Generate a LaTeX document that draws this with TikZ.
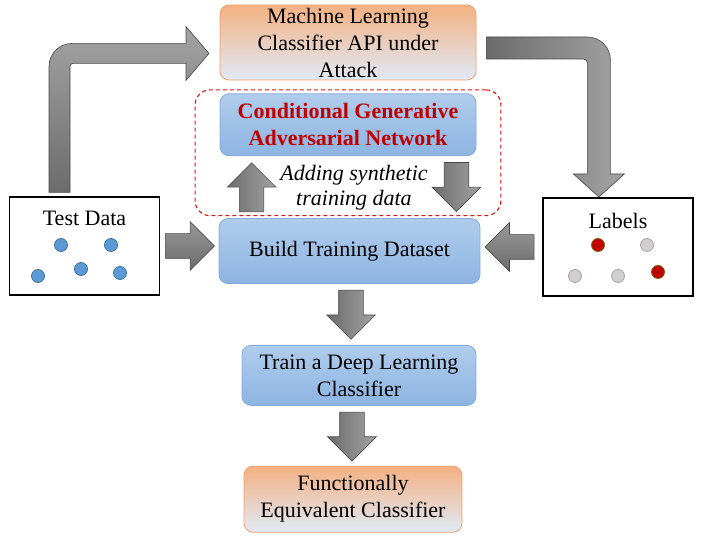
\documentclass[tikz,border=0pt]{standalone}
\usepackage{fontspec}
\setmainfont{Liberation Serif}
\definecolor{flowOrange}{RGB}{244,177,131}
\definecolor{flowOrangeLine}{RGB}{241,160,105}
\definecolor{flowPale}{RGB}{224,234,246}
\definecolor{flowBlueTop}{RGB}{176,204,236}
\definecolor{flowBlueBot}{RGB}{141,180,226}
\definecolor{flowBlueLine}{RGB}{132,170,220}
\definecolor{flowRed}{RGB}{192,0,0}
\definecolor{flowDash}{RGB}{224,20,20}
\definecolor{flowGrayDark}{RGB}{108,108,108}
\definecolor{flowGrayLight}{RGB}{163,163,163}
\definecolor{flowGrayLine}{RGB}{72,72,72}
\definecolor{dotBlue}{RGB}{91,155,213}
\definecolor{dotBlueLine}{RGB}{65,113,156}
\definecolor{dotRed}{RGB}{192,0,0}
\definecolor{dotRedLine}{RGB}{127,96,0}
\definecolor{dotGray}{RGB}{208,206,206}
\definecolor{dotGrayLine}{RGB}{165,165,165}
\usetikzlibrary{shapes.arrows,positioning,fit,calc}

\begin{document}
\begin{tikzpicture}[x=1pt, y=1pt,
  box/.style={rounded corners=9pt, inner sep=0pt, align=center, line width=0.8pt,
              font=\fontsize{22}{27}\selectfont},
  bluebox/.style={box, draw=flowBlueLine, top color=flowBlueTop, bottom color=flowBlueBot},
  orangebox/.style={box, draw=flowOrangeLine, top color=flowOrange,
                    middle color=flowOrange!80!flowPale, bottom color=flowPale},
  databox/.style={draw, line width=1.1pt, minimum width=150pt, minimum height=98pt},
  blockarrow/.style={single arrow, draw=flowGrayLine, line width=0.6pt, inner sep=12pt,
                     minimum height=49pt, minimum width=48pt, single arrow head extend=12pt,
                     anchor=tail},
  downarrow/.style={blockarrow, shape border rotate=270, left color=flowGrayDark, right color=flowGrayLight},
  uparrow/.style={blockarrow, shape border rotate=90, left color=flowGrayDark, right color=flowGrayLight},
  rightarrow/.style={blockarrow, top color=flowGrayLight!80!flowGrayDark, bottom color=flowGrayDark},
  leftarrow/.style={rightarrow, shape border rotate=180},
  bent/.style={draw=flowGrayLine, line width=0.6pt},
  gangroup/.style={draw=flowDash, line width=1.1pt, dash pattern=on 4pt off 3pt,
                   rounded corners=15pt, inner xsep=24.5pt, inner ysep=3.5pt},
  datadot/.style={circle, minimum size=13pt, inner sep=0pt, line width=0.8pt},
  bluedot/.style={datadot, fill=dotBlue, draw=dotBlueLine},
  reddot/.style={datadot, fill=dotRed, draw=dotRedLine},
  graydot/.style={datadot, fill=dotGray, draw=dotGrayLine}
]
  \useasboundingbox (0,0) rectangle (705,543);

  % main flow
  \node[orangebox, minimum width=256pt, minimum height=75pt] (api) at (348,500.5)
       {Machine Learning\\Classifier API under\\Attack};
  \node[bluebox, minimum width=256pt, minimum height=62pt, below=13pt of api,
        font=\fontsize{22}{27}\selectfont\bfseries, text=flowRed] (cgan)
       {Conditional Generative\\Adversarial Network};
  \node[bluebox, minimum width=261pt, minimum height=65pt, below=62pt of cgan, xshift=1.5pt] (build)
       {Build Training Dataset};
  \node[bluebox, minimum width=234pt, minimum height=60pt, below=61pt of build, xshift=9.5pt] (train)
       {Train a Deep Learning\\Classifier};
  \node[orangebox, minimum width=218pt, minimum height=66pt, below=60pt of train, xshift=-6pt] (final)
       {Functionally\\Equivalent Classifier};

  % inputs
  \node[databox] (test) at (84.5,297) {};
  \node[font=\fontsize{22}{27}\selectfont] (testlbl) at ([yshift=-22pt]test.north) {Test Data};
  \node[bluedot] (b1) at (61,298) {};
  \node[bluedot] (b2) at (111,298) {};
  \node[bluedot] (b3) at (38,267) {};
  \node[bluedot] (b4) at (81,274) {};
  \node[bluedot] (b5) at (120,270) {};

  \node[databox] (labels) at (618,296) {};
  \node[font=\fontsize{22}{27}\selectfont] (labelslbl) at ([yshift=-24pt]labels.north) {Labels};
  \node[reddot] (r1) at (598,298) {};
  \node[graydot] (g1) at (647,298) {};
  \node[graydot] (g2) at (575,267) {};
  \node[graydot] (g3) at (618,267) {};
  \node[reddot] (r2) at (658,271) {};

  % block arrows
  \node[rightarrow] (tin) at ([xshift=5pt]test.east) {};
  \node[leftarrow] (lin) at ([xshift=-8pt]labels.west) {};
  \node[downarrow] (tobuild) at ([xshift=1.5pt,yshift=-6pt]build.south) {};
  \node[downarrow] (totrain) at ($(train.south -| final.north)+(-1,-6)$) {};
  \node[uparrow] (gup) at ($(build.north west)+(33,6)$) {};
  \node[downarrow] (gdown) at ($(cgan.south east)+(-20,-6)$) {};
  \node[font=\fontsize{22}{25}\selectfont\itshape, align=center, inner sep=0pt] (synth)
       at ($(gup)!0.5!(gdown)+(0,-1)$) {Adding synthetic\\training data};
  \node[gangroup, fit=(cgan)(gup)(gdown)] (gan) {};

  % bent arrows: queries to the api, answers to the labels
  \draw[bent, top color=flowGrayLight, bottom color=flowGrayDark]
    ([xshift=-35.5pt,yshift=4pt]test.north) -- ++(0,126)
    arc[start angle=180, end angle=90, radius=23pt]
    -- ++(114,0) -- ++(0,17) -- ++(23,-27) -- ++(-23,-27) -- ++(0,17)
    -- ++(-113,0) arc[start angle=90, end angle=180, radius=3pt]
    -- ++(0,-126) -- cycle;
  \draw[bent, left color=flowGrayDark, right color=flowGrayLight]
    ([xshift=10pt,yshift=5.5pt]api.east) -- ++(101,0)
    arc[start angle=90, end angle=0, radius=23pt]
    -- ++(0,-114) -- ++(14,0) -- ++(-25.5,-23) -- ++(-25.5,23) -- ++(14,0)
    -- ++(0,111) arc[start angle=0, end angle=90, radius=4pt]
    -- ++(-97,0) -- cycle;
\end{tikzpicture}
\end{document}
